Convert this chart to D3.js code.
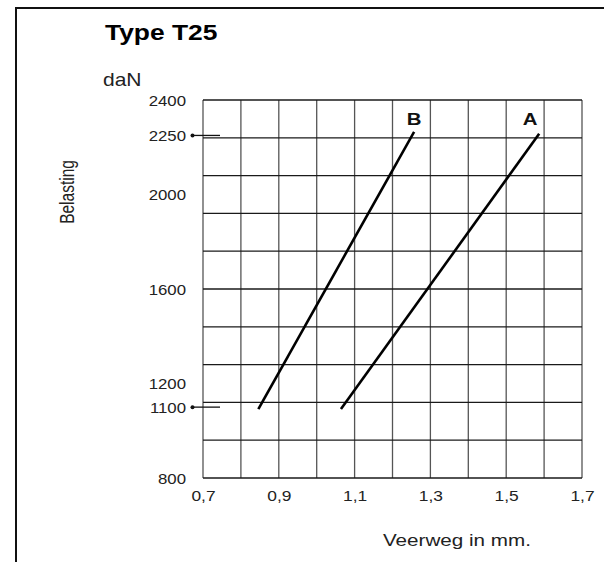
<!DOCTYPE html>
<html>
<head>
<meta charset="utf-8">
<script src="https://cdn.jsdelivr.net/npm/d3@7"></script>
<style>
  html, body { margin: 0; padding: 0; background: #fff; }
  svg { display: block; }
  text { font-family: "Liberation Sans", Arial, Helvetica, sans-serif; }
</style>
</head>
<body>
<script>
// ---- data ----
const title = "Type T25";
const yUnit = "daN";
const yTitle = "Belasting";
const xTitle = "Veerweg in mm.";
const xGridValues = [0.7, 0.8, 0.9, 1.0, 1.1, 1.2, 1.3, 1.4, 1.5, 1.6, 1.7];
const xTickValues = [0.7, 0.9, 1.1, 1.3, 1.5, 1.7];
const yGridValues = [800, 960, 1120, 1280, 1440, 1600, 1760, 1920, 2080, 2240, 2400];
const yTickValues = [800, 1100, 1200, 1600, 2000, 2250, 2400];
const yMarkedValues = [1100, 2250];
const seriesNames = ["A", "B"];
const seriesA_x = [1.064, 1.587];
const seriesA_y = [1092, 2257];
const seriesB_x = [0.846, 1.257];
const seriesB_y = [1092, 2265];

// ---- layout ----
const W = 604, H = 562;
const plotL = 203, plotR = 582, plotT = 100, plotB = 478;
const sx = 1.2; // horizontal text stretch
const txt = "#222";

const svg = d3.select("body").append("svg").attr("width", W).attr("height", H);

const x = d3.scaleLinear().domain([0.7, 1.7]).range([plotL, plotR]);
const y = d3.scaleLinear().domain([800, 2400]).range([plotB, plotT]);

// frame
svg.append("path").attr("d", `M16,${H} L16,8 L${W},8`)
  .attr("fill", "none").attr("stroke", "#111").attr("stroke-width", 2);

// grid
svg.append("g").selectAll("line").data(xGridValues).join("line")
  .attr("x1", d => x(d)).attr("x2", d => x(d))
  .attr("y1", y(2400)).attr("y2", y(800))
  .attr("stroke", "#555").attr("stroke-width", 1.3);
svg.append("g").selectAll("line").data(yGridValues).join("line")
  .attr("x1", x(0.7)).attr("x2", x(1.7))
  .attr("y1", d => y(d)).attr("y2", d => y(d))
  .attr("stroke", "#1a1a1a").attr("stroke-width", 1.3);

// axes (labels only)
const fmt = d => d3.format(".1f")(d).replace(".", ",");
const gx = svg.append("g").attr("transform", `translate(0,${plotB})`)
  .call(d3.axisBottom(x).tickValues(xTickValues).tickSize(0).tickFormat(fmt));
gx.select(".domain").remove();
gx.selectAll("text").attr("y", 0).attr("dy", "0.35em")
  .attr("transform", `translate(0,17.5) scale(${sx},1)`)
  .attr("font-size", 14.5).attr("fill", txt)
  .attr("font-family", "'Liberation Sans', Arial, sans-serif");

const gy = svg.append("g").attr("transform", `translate(${plotL},0)`)
  .call(d3.axisLeft(y).tickValues(yTickValues).tickSize(0).tickFormat(d3.format("d")));
gy.select(".domain").remove();
gy.selectAll("text").attr("x", 0).attr("dy", "0.38em")
  .attr("transform", `translate(-17,0) scale(${sx},1)`)
  .attr("font-size", 14).attr("fill", txt)
  .attr("font-family", "'Liberation Sans', Arial, sans-serif");

// marked values (bullet + short line)
const mk = svg.append("g").selectAll("g").data(yMarkedValues).join("g")
  .attr("transform", d => `translate(0,${y(d)})`);
mk.append("line").attr("x1", 192).attr("x2", 220).attr("y1", 0).attr("y2", 0)
  .attr("stroke", "#111").attr("stroke-width", 1.3);
mk.append("circle").attr("cx", 192.5).attr("cy", 0).attr("r", 2).attr("fill", "#111");

// series lines
const line = d3.line().x(d => x(d[0])).y(d => y(d[1]));
const series = [
  { name: seriesNames[0], pts: d3.zip(seriesA_x, seriesA_y) },
  { name: seriesNames[1], pts: d3.zip(seriesB_x, seriesB_y) }
];
svg.append("g").selectAll("path").data(series).join("path")
  .attr("d", d => line(d.pts))
  .attr("fill", "none").attr("stroke", "#000").attr("stroke-width", 2.6);

// series labels
svg.append("g").selectAll("text").data(series).join("text")
  .attr("transform", d => {
    const p = d.pts[d.pts.length - 1];
    return `translate(${x(p[0]) - (d.name === "A" ? 9 : 0)},${125})  scale(${sx},1)`;
  })
  .attr("text-anchor", "middle").attr("font-size", 17).attr("font-weight", "bold")
  .attr("fill", "#111").text(d => d.name);

// titles
svg.append("text").attr("transform", `translate(105,40) scale(${sx},1)`)
  .attr("font-size", 22).attr("font-weight", "bold").attr("fill", "#000").text(title);
svg.append("text").attr("transform", `translate(103,86) scale(${sx},1)`)
  .attr("font-size", 17.5).attr("fill", txt).text(yUnit);
svg.append("text").attr("transform", `translate(74,192) scale(1.25,1) rotate(-90)`)
  .attr("text-anchor", "middle").attr("font-size", 15.5).attr("fill", txt).text(yTitle);
svg.append("text").attr("transform", `translate(383,546) scale(${sx},1)`)
  .attr("font-size", 17.2).attr("fill", txt).text(xTitle);
</script>
</body>
</html>
